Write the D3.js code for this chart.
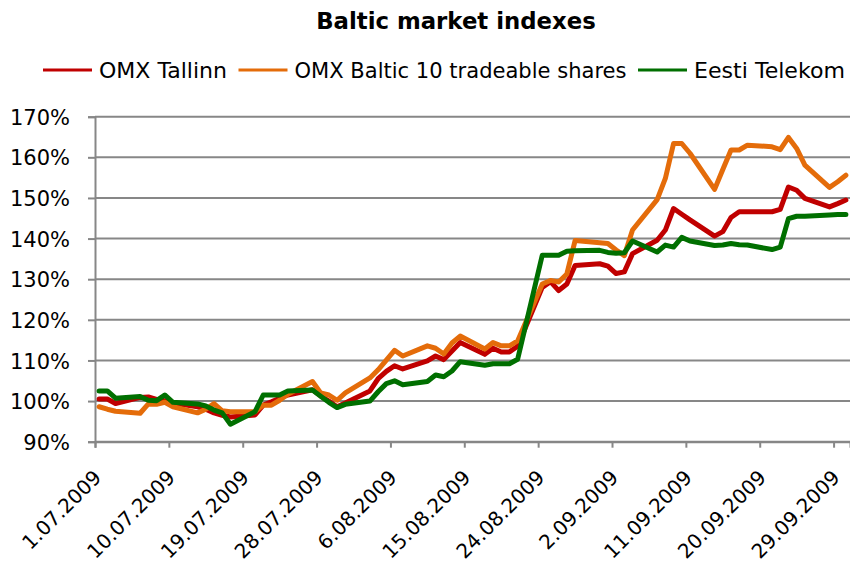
<!DOCTYPE html>
<html><head><meta charset="utf-8">
<script src="https://cdn.jsdelivr.net/npm/d3@7"></script>
<style>
body{margin:0;background:#fff}
svg{display:block}
text{font-family:"DejaVu Sans",Verdana,sans-serif}
</style>
</head><body>
<svg id="chart" width="850" height="570"></svg>
<script>
const dates = [
  "2009-07-01","2009-07-02","2009-07-03","2009-07-06","2009-07-07","2009-07-08","2009-07-09","2009-07-10",
  "2009-07-13","2009-07-14","2009-07-15","2009-07-16","2009-07-17","2009-07-20","2009-07-21","2009-07-22",
  "2009-07-23","2009-07-24","2009-07-27","2009-07-28","2009-07-29","2009-07-30","2009-07-31",
  "2009-08-03","2009-08-04","2009-08-05","2009-08-06","2009-08-07","2009-08-10","2009-08-11","2009-08-12",
  "2009-08-13","2009-08-14","2009-08-17","2009-08-18","2009-08-19","2009-08-20","2009-08-21","2009-08-24",
  "2009-08-25","2009-08-26","2009-08-27","2009-08-28","2009-08-31",
  "2009-09-01","2009-09-02","2009-09-03","2009-09-04","2009-09-07","2009-09-08","2009-09-09","2009-09-10",
  "2009-09-11","2009-09-14","2009-09-15","2009-09-16","2009-09-17","2009-09-18","2009-09-21","2009-09-22",
  "2009-09-23","2009-09-24","2009-09-25","2009-09-28","2009-09-29","2009-09-30"
];
const omxTallinn = [
  100.5,100.5,99.4,100.9,101.0,100.4,100.1,99.5,98.6,98.0,97.1,96.5,96.1,96.6,99.0,99.8,100.7,101.5,102.8,101.3,100.0,98.6,99.5,
  102.5,105.5,107.3,108.7,107.9,109.9,111.1,110.2,112.3,114.4,111.5,113.0,112.1,112.1,113.5,128.0,129.4,127.2,128.8,133.4,133.8,
  133.2,131.4,131.8,136.3,139.6,142.1,147.4,146.0,144.6,140.6,141.7,145.2,146.6,146.6,146.6,147.2,152.7,151.9,149.9,147.8,148.6,149.5
];
const omxBaltic10 = [
  98.6,98.0,97.5,97.0,99.3,99.2,99.7,98.6,97.1,98.0,99.4,97.6,97.4,97.4,99.0,99.0,100.2,101.7,104.8,102.0,101.5,100.2,102.0,
  105.7,107.7,110.1,112.5,111.1,113.6,113.0,111.6,114.3,116.0,112.8,114.4,113.6,113.6,114.8,128.8,129.7,129.3,131.3,139.5,139.0,
  138.8,137.2,135.8,142.1,149.6,154.8,163.4,163.4,161.0,152.1,157.0,161.8,161.8,163.0,162.6,161.9,164.9,162.2,158.1,152.6,154.0,155.6
];
const eestiTelekom = [
  102.5,102.5,100.7,101.1,100.2,100.1,101.5,99.7,99.3,98.8,97.8,97.1,94.3,97.4,101.5,101.5,101.5,102.5,102.7,101.2,99.7,98.4,99.2,
  100.0,102.3,104.3,105.0,104.0,104.8,106.4,106.0,107.4,109.7,108.8,109.2,109.2,109.2,110.3,135.9,135.9,135.9,136.9,137.0,137.1,
  136.6,136.4,136.5,139.4,136.7,138.4,137.9,140.3,139.4,138.3,138.4,138.8,138.5,138.4,137.3,137.9,144.9,145.5,145.5,145.8,145.9,145.9
];
const seriesNames = ["OMX Tallinn","OMX Baltic 10 tradeable shares","Eesti Telekom"];
const seriesColors = ["#C00000","#E46C0A","#006F00"];
const tickLabels = ["1.07.2009","10.07.2009","19.07.2009","28.07.2009","6.08.2009","15.08.2009",
  "24.08.2009","2.09.2009","11.09.2009","20.09.2009","29.09.2009"];
const yTicks = [90,100,110,120,130,140,150,160,170];
const xStart = "2009-07-01", xEnd = "2009-10-01";

const svg = d3.select("#chart");
const W = 850, H = 570;
const m = {left:95, right:0, top:116.7, bottom:128.3};
const parse = d3.timeParse("%Y-%m-%d");
const parseTick = d3.timeParse("%d.%m.%Y");
const noon = d => d3.timeHour.offset(parse(d), 12);

const x = d3.scaleTime().domain([parse(xStart), parse(xEnd)]).range([m.left, W - m.right]);
const y = d3.scaleLinear().domain([90, 170]).range([H - m.bottom, m.top]);

const gridColor = "#878787";

// gridlines
svg.append("g").selectAll("line").data(yTicks).join("line")
  .attr("x1", m.left).attr("x2", W - m.right)
  .attr("y1", d => y(d)).attr("y2", d => y(d))
  .attr("stroke", gridColor).attr("stroke-width", 2);

// y axis
const yAxis = svg.append("g").attr("transform", `translate(${m.left},0)`)
  .call(d3.axisLeft(y).tickValues(yTicks).tickSize(7).tickPadding(18).tickFormat(d => d + "%"));
yAxis.select(".domain").attr("stroke", gridColor).attr("stroke-width", 2);
yAxis.selectAll(".tick line").attr("stroke", gridColor).attr("stroke-width", 2);
yAxis.selectAll(".tick text").attr("font-size", 21).attr("fill", "#000")
  .attr("font-family", "DejaVu Sans").attr("dy", "0.36em");

// x axis
const tickDates = tickLabels.map(parseTick);
const xAxis = svg.append("g").attr("transform", `translate(0,${H - m.bottom})`)
  .call(d3.axisBottom(x).tickValues(tickDates).tickSize(6).tickFormat((d, i) => tickLabels[i]));
xAxis.select(".domain").attr("stroke", gridColor).attr("stroke-width", 2);
xAxis.selectAll(".tick line").attr("stroke", gridColor).attr("stroke-width", 2);
xAxis.selectAll(".tick text").attr("font-size", 20).attr("fill", "#000")
  .attr("font-family", "DejaVu Sans")
  .attr("text-anchor", "end").attr("y", 0).attr("dy", 0)
  .attr("transform", "translate(7,37) rotate(-45)");

// lines
const seriesData = [omxTallinn, omxBaltic10, eestiTelekom];
const line = d3.line().x((d, i) => x(noon(dates[i]))).y(d => y(d)).curve(d3.curveLinear);
svg.append("g").selectAll("path").data(seriesData).join("path")
  .attr("d", line)
  .attr("fill", "none")
  .attr("stroke", (d, i) => seriesColors[i])
  .attr("stroke-width", 5)
  .attr("stroke-linejoin", "round")
  .attr("stroke-linecap", "round");

// title
svg.append("text").attr("x", 456).attr("y", 29).attr("text-anchor", "middle")
  .attr("font-size", 22.8).attr("font-weight", "bold").text("Baltic market indexes");

// legend
const legendWidths = [128, 332, 151];
const leg = svg.append("g");
let lx = 43;
seriesNames.forEach((name, i) => {
  leg.append("line").attr("x1", lx).attr("x2", lx + 49).attr("y1", 70).attr("y2", 70)
    .attr("stroke", seriesColors[i]).attr("stroke-width", 3);
  leg.append("text").attr("x", lx + 56).attr("y", 78).attr("font-size", 21)
    .attr("textLength", legendWidths[i]).attr("lengthAdjust", "spacingAndGlyphs").text(name);
  lx += 56 + legendWidths[i] + 11.5;
});
</script>
</body></html>
